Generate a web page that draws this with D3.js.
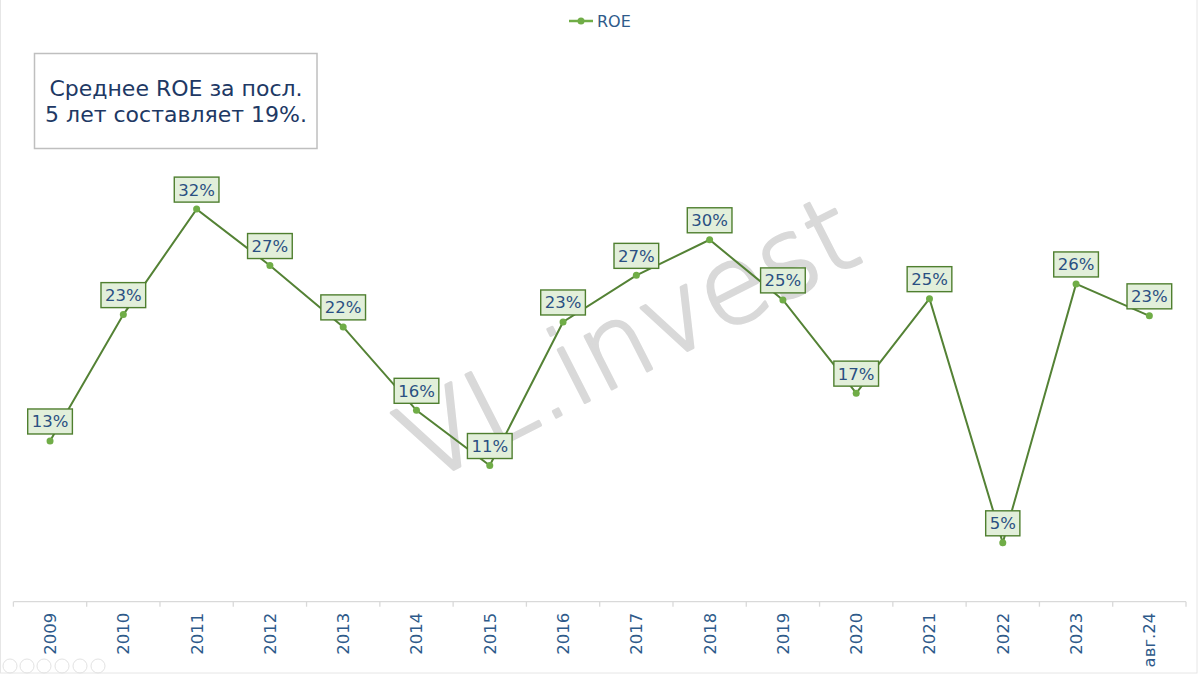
<!DOCTYPE html>
<html>
<head>
<meta charset="utf-8">
<script src="https://cdn.jsdelivr.net/npm/d3@7"></script>
<style>
  html, body { margin: 0; padding: 0; background: #ffffff; }
  svg { display: block; font-family: "DejaVu Sans", "Noto Sans", sans-serif; }
</style>
</head>
<body>
<svg id="chart" width="1200" height="675"></svg>
<script>
// ---- data ----
const categories = ["2009","2010","2011","2012","2013","2014","2015","2016","2017","2018","2019","2020","2021","2022","2023","авг.24"];
const roeValues  = [13.1, 23.4, 32.0, 27.4, 22.4, 15.6, 11.1, 22.8, 26.6, 29.5, 24.6, 17.0, 24.7, 4.8, 25.9, 23.3];
const seriesName = "ROE";
const noteLines  = ["Среднее ROE за посл.", "5 лет составляет 19%."];
const watermark  = "VL.invest";

// ---- layout ----
const W = 1200, H = 675;
const plot = { left: 13.4, right: 1186, top: 172.3, bottom: 601.7 };
const svg = d3.select("#chart");

// frame
svg.append("rect").attr("x", 0.5).attr("y", -2).attr("width", 1196.5).attr("height", 675)
  .attr("fill", "none").attr("stroke", "#e6e6e6").attr("stroke-width", 1);

const x = d3.scaleBand().domain(categories).range([plot.left, plot.right]).padding(0);
const y = d3.scaleLinear().domain([0, 35]).range([plot.bottom, plot.top]);
const cx = d => x(d) + x.bandwidth() / 2;

// watermark
svg.append("text")
  .attr("transform", "translate(645,372) rotate(-27)")
  .attr("text-anchor", "middle")
  .attr("font-size", 108)
  .attr("font-weight", 200)
  .attr("font-family", "'DejaVu Sans', sans-serif")
  .attr("fill", "#d9d9d9")
  .attr("stroke", "#d9d9d9")
  .attr("stroke-width", 3)
  .attr("stroke-linejoin", "round")
  .text(watermark);

// axis
const axisG = svg.append("g").attr("transform", `translate(0,${plot.bottom})`);
axisG.append("line").attr("x1", plot.left).attr("x2", plot.right)
  .attr("stroke", "#d9d9d9").attr("stroke-width", 1.3);
const edges = categories.map(c => x(c)).concat([plot.right]);
axisG.selectAll("line.tick").data(edges).enter().append("line")
  .attr("class", "tick")
  .attr("x1", d => d).attr("x2", d => d).attr("y1", 0).attr("y2", 5)
  .attr("stroke", "#d9d9d9").attr("stroke-width", 1.3);
axisG.selectAll("text.lbl").data(categories).enter().append("text")
  .attr("class", "lbl")
  .attr("transform", d => `translate(${cx(d) + 6},11) rotate(-90)`)
  .attr("text-anchor", "end")
  .attr("font-size", 16.5)
  .attr("fill", "#2e5a8a")
  .text(d => d);

// line
const line = d3.line().x((d, i) => cx(categories[i])).y(d => y(d));
svg.append("path").datum(roeValues)
  .attr("d", line).attr("fill", "none")
  .attr("stroke", "#548235").attr("stroke-width", 2);

svg.selectAll("circle.pt").data(roeValues).enter().append("circle")
  .attr("class", "pt")
  .attr("cx", (d, i) => cx(categories[i])).attr("cy", d => y(d)).attr("r", 3.5)
  .attr("fill", "#70ad47");

// data labels
const labG = svg.selectAll("g.dl").data(roeValues).enter().append("g").attr("class", "dl")
  .attr("transform", (d, i) => `translate(${cx(categories[i])},${y(d) - 19.5})`);
labG.append("text")
  .attr("text-anchor", "middle").attr("dy", "0.36em")
  .attr("font-size", 16.5).attr("fill", "#2a5082")
  .text(d => Math.round(d) + "%");
labG.each(function () {
  const g = d3.select(this);
  const w = g.select("text").node().getComputedTextLength();
  g.insert("rect", "text")
    .attr("x", -w / 2 - 4).attr("y", -12.5).attr("width", w + 8).attr("height", 25)
    .attr("fill", "#e2efda").attr("stroke", "#4f7f2f").attr("stroke-width", 1.4);
});

// legend
const leg = svg.append("g").attr("transform", "translate(569,21)");
leg.append("line").attr("x1", 0).attr("x2", 24).attr("stroke", "#70ad47").attr("stroke-width", 2.5);
leg.append("circle").attr("cx", 12).attr("r", 3.5).attr("fill", "#70ad47");
leg.append("text").attr("x", 28).attr("dy", "0.36em").attr("font-size", 16)
  .attr("fill", "#2e5a8a").text(seriesName);

// note box
svg.append("rect").attr("x", 34.5).attr("y", 53.5).attr("width", 282.5).attr("height", 95)
  .attr("fill", "#ffffff").attr("stroke", "#bfbfbf").attr("stroke-width", 1.5);
svg.append("g").selectAll("text").data(noteLines).enter().append("text")
  .attr("x", 176).attr("y", (d, i) => 96 + i * 26)
  .attr("text-anchor", "middle").attr("font-size", 22)
  .attr("fill", "#203864").text(d => d);

// presentation controls (faint)
const ctrl = svg.append("g");
[10, 27, 44, 62, 80, 98].forEach(px => {
  ctrl.append("circle").attr("cx", px).attr("cy", 666).attr("r", 7)
    .attr("fill", "none").attr("stroke", "#e3e3e3").attr("stroke-width", 1);
});
</script>
</body>
</html>
